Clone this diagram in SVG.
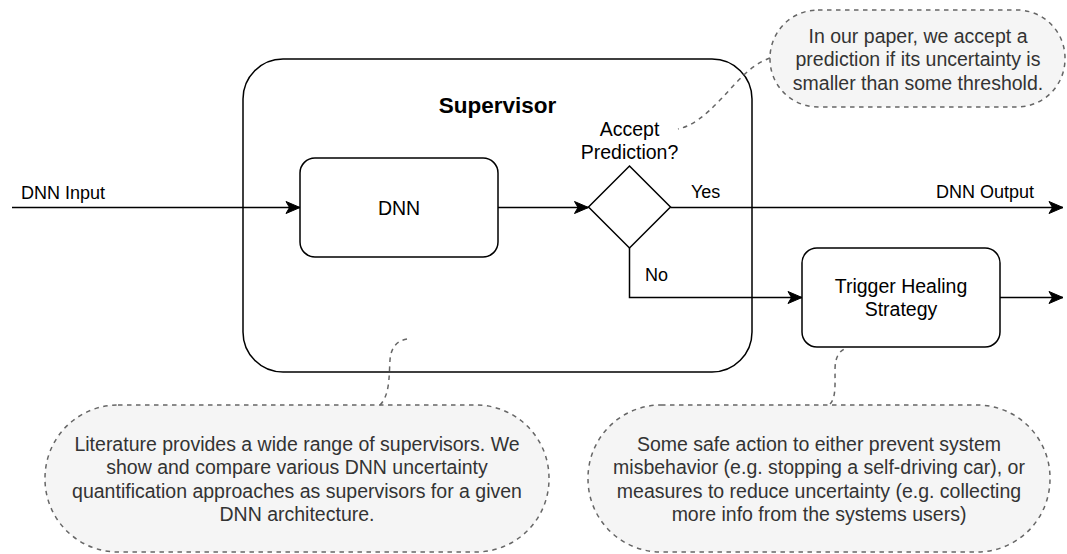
<svg xmlns="http://www.w3.org/2000/svg" width="1067" height="554" viewBox="0 0 1067 554">
  <style>
    text { font-family: "Liberation Sans", Arial, Helvetica, sans-serif; }
    .node { fill: #ffffff; stroke: #000000; stroke-width: 1.5; }
    .lbl { font-size: 19.5px; fill: #000000; text-anchor: middle; }
    .elbl { font-size: 18px; fill: #000000; }
    .note { fill: #f5f5f5; stroke: #666666; stroke-width: 1.5; stroke-dasharray: 4.5 4.5; }
    .notetxt { font-size: 19.5px; fill: #333333; text-anchor: middle; }
    .edge { fill: none; stroke: #000000; stroke-width: 1.5; }
    .dash { fill: none; stroke: #666666; stroke-width: 1.5; stroke-dasharray: 4.5 4.5; }
  </style>
  <defs>
    <marker id="arrow" markerUnits="userSpaceOnUse" markerWidth="16" markerHeight="14" viewBox="-15 -7 16 14" refX="0" refY="0" orient="auto">
      <path d="M0,0 L-14,-6 L-10.5,0 L-14,6 Z" fill="#000000" stroke="#000000" stroke-width="1"/>
    </marker>
  </defs>
  <rect width="1067" height="554" fill="#ffffff"/>

  <g id="supervisor">
    <rect class="node" x="243" y="59" width="509" height="313" rx="40" ry="40"/>
    <text x="497.5" y="112.5" style="font-size:22.5px;font-weight:bold;text-anchor:middle;fill:#000">Supervisor</text>
  </g>

  <g id="dnn">
    <rect class="node" x="300" y="158" width="198" height="99" rx="15" ry="15"/>
    <text class="lbl" x="399" y="214.5">DNN</text>
  </g>

  <g id="decision">
    <polygon class="node" points="629.5,166 670.5,207 629.5,248 588.5,207"/>
    <text class="lbl" x="629.5" y="135.5">Accept</text>
    <text class="lbl" x="629.5" y="159">Prediction?</text>
  </g>

  <g id="trigger">
    <rect class="node" x="802" y="248" width="198" height="99" rx="15" ry="15"/>
    <text class="lbl" x="901" y="292.5">Trigger Healing</text>
    <text class="lbl" x="901" y="316">Strategy</text>
  </g>

  <g id="note-threshold">
    <rect class="note" x="770" y="10" width="295" height="97" rx="48" ry="48"/>
    <text class="notetxt" x="918" y="42.5">In our paper, we accept a</text>
    <text class="notetxt" x="918" y="66">prediction if its uncertainty is</text>
    <text class="notetxt" x="918" y="89.5">smaller than some threshold.</text>
  </g>

  <g id="note-literature">
    <rect class="note" x="45" y="405" width="504" height="147" rx="73" ry="73"/>
    <text class="notetxt" x="297" y="450.5">Literature provides a wide range of supervisors. We</text>
    <text class="notetxt" x="297" y="474">show and compare various DNN uncertainty</text>
    <text class="notetxt" x="297" y="497.5">quantification approaches as supervisors for a given</text>
    <text class="notetxt" x="297" y="521">DNN architecture.</text>
  </g>

  <g id="note-healing">
    <rect class="note" x="588" y="405" width="462" height="147" rx="73" ry="73"/>
    <text class="notetxt" x="819" y="450.5">Some safe action to either prevent system</text>
    <text class="notetxt" x="819" y="474">misbehavior (e.g. stopping a self-driving car), or</text>
    <text class="notetxt" x="819" y="497.5">measures to reduce uncertainty (e.g. collecting</text>
    <text class="notetxt" x="819" y="521">more info from the systems users)</text>
  </g>

  <g id="connectors">
    <path class="edge" d="M12,207.5 L300,207.5" marker-end="url(#arrow)"/>
    <text class="elbl" x="21" y="199">DNN Input</text>
    <path class="edge" d="M498,207.5 L588.5,207.5" marker-end="url(#arrow)"/>
    <path class="edge" d="M670.5,207.5 L1063,207.5" marker-end="url(#arrow)"/>
    <text class="elbl" x="691" y="198">Yes</text>
    <text class="elbl" x="1034" y="198" text-anchor="end">DNN Output</text>
    <path class="edge" d="M629.5,248 L629.5,297.5 L802,297.5" marker-end="url(#arrow)"/>
    <text class="elbl" x="645" y="281">No</text>
    <path class="edge" d="M1000,297.5 L1063,297.5" marker-end="url(#arrow)"/>
    <path class="dash" d="M770,58 C748,66 735,85 720,100 C705,116 692,126 678,129"/>
    <path class="dash" d="M380,405 C390,395 389,375 390,360 C391,348 396,341 407,339"/>
    <path class="dash" d="M830,404 C836,398 835,385 835,370 C835,356 840,350 847,348"/>
  </g>
</svg>
